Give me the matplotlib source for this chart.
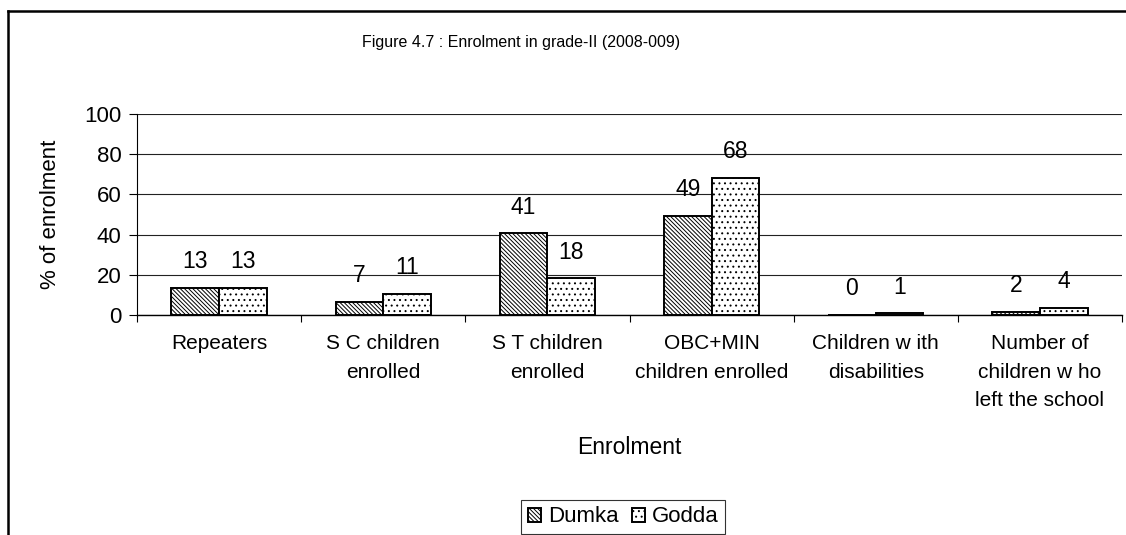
import matplotlib
matplotlib.use("Agg")
import matplotlib.pyplot as plt
from matplotlib.lines import Line2D
from matplotlib import font_manager
import numpy as np

# values (bar heights) and the labels printed above them
categories = ["Repeaters", "S C children\nenrolled", "S T children\nenrolled",
              "OBC+MIN\nchildren enrolled", "Children w ith\ndisabilities",
              "Number of\nchildren w ho\nleft the school"]
dumka = [13.4, 6.6, 40.6, 49.1, 0.0, 1.5]
godda = [13.4, 10.6, 18.2, 68.3, 0.8, 3.5]
dumka_lbl = [13, 7, 41, 49, 0, 2]
godda_lbl = [13, 11, 18, 68, 1, 4]
yticks = [0, 20, 40, 60, 80, 100]

names = {f.name for f in font_manager.fontManager.ttflist}
base = "Liberation Sans" if "Liberation Sans" in names else "DejaVu Sans"
narrow = "Liberation Sans Narrow" if "Liberation Sans Narrow" in names else base
plt.rcParams["font.family"] = [base, "DejaVu Sans"]
plt.rcParams["hatch.linewidth"] = 0.7

W, H = 1126, 535
fig = plt.figure(figsize=(W / 100, H / 100), dpi=100)
ax = fig.add_axes([137 / W, 1 - 315 / H, (1122 - 137) / W, (315 - 114) / H])

x = np.arange(len(categories))
bw = 0.29
b1 = ax.bar(x - bw / 2, dumka, bw, facecolor="white", edgecolor="black",
            hatch="\\" * 8, lw=1.4, label="Dumka", zorder=3)
b2 = ax.bar(x + bw / 2, godda, bw, facecolor="white", edgecolor="black",
            hatch="...", lw=1.4, label="Godda", zorder=3)

for xs, vals, lbls in ((x - bw / 2, dumka, dumka_lbl), (x + bw / 2, godda, godda_lbl)):
    for xi, v, l in zip(xs, vals, lbls):
        ax.annotate(f"{l}", (xi, v), xytext=(0, 19), textcoords="offset points",
                    ha="center", va="center", fontsize=16.5)

ax.set_xlim(-0.5, len(categories) - 0.5)
ax.set_ylim(0, 100)
ax.set_yticks(yticks)
ax.tick_params(axis="y", labelsize=16, length=6, width=0.8, direction="out", pad=5)
ax.set_xticks(x)
ax.set_xticklabels(categories, fontsize=15, linespacing=1.62, va="top")
ax.tick_params(axis="x", which="major", length=0, pad=14)
ax.set_xticks(np.arange(-0.5, len(categories)), minor=True)
ax.tick_params(axis="x", which="minor", length=5, width=0.8, direction="out")
ax.yaxis.grid(True, color="#222222", lw=0.8, zorder=0)
ax.set_axisbelow(True)
for s in ("top", "right"):
    ax.spines[s].set_visible(False)
ax.spines["left"].set_linewidth(0.8)
ax.spines["bottom"].set_linewidth(1.0)

ax.set_ylabel("% of enrolment", fontsize=16)
ax.yaxis.set_label_coords(-(137 - 61) / (1122 - 137), 0.5)
fig.text(629 / W, 1 - 447 / H, "Enrolment", ha="center", va="center", fontsize=16.5)
fig.text(521 / W, 1 - 43 / H, "Figure 4.7 : Enrolment in grade-II (2008-009)",
         ha="center", va="center", fontsize=11.5, family=[narrow, "DejaVu Sans"])

leg = fig.legend(handles=[b1, b2], loc="center", bbox_to_anchor=(623 / W, 1 - 517 / H),
                 ncol=2, fontsize=16, frameon=True, fancybox=False, handlelength=0.6,
                 handleheight=0.6, handletextpad=0.3, columnspacing=0.6,
                 borderpad=0.3, borderaxespad=0)
leg.get_frame().set_edgecolor("black")
leg.get_frame().set_linewidth(0.8)

# outer chart border (left and top edges, cut off at right and bottom)
fig.add_artist(Line2D([8 / W, 8 / W], [0, 1 - 11 / H], transform=fig.transFigure,
                      color="black", lw=1.8))
fig.add_artist(Line2D([8 / W, 1], [1 - 11 / H, 1 - 11 / H], transform=fig.transFigure,
                      color="black", lw=1.8))

fig.savefig("out.png", dpi=100)
